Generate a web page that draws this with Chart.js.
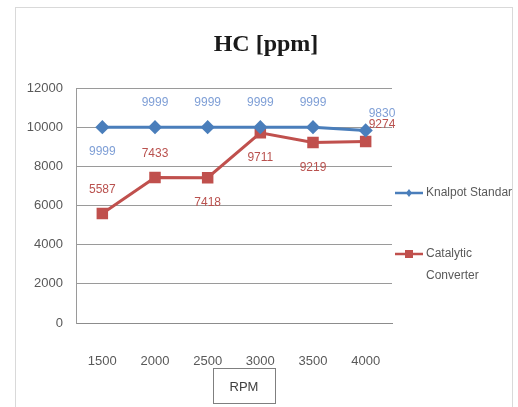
<!DOCTYPE html>
<html><head><meta charset="utf-8">
<script src="https://cdn.jsdelivr.net/npm/chart.js@4"></script>
<style>html,body{margin:0;padding:0;background:#fff}</style></head>
<body><canvas id="c" width="518" height="407"></canvas>
<script>
const chartTitle = 'HC [ppm]';
const xTitle = 'RPM';
const rpm = ['1500','2000','2500','3000','3500','4000'];
const knalpotStandar = [9999, 9999, 9999, 9999, 9999, 9830];
const catalyticConverter = [5587, 7433, 7418, 9711, 9219, 9274];
const knalpotLabelSide = ['below','above','above','above','above','right'];
const catalyticLabelSide = ['above','above','below','below','below','right'];
const seriesNames = ['Knalpot Standar', 'Catalytic Converter'];

const BLUE = '#4a7ebb', RED = '#c0504d';

const decor = {
  id: 'decor',
  beforeDraw(chart) {
    const ctx = chart.ctx;
    ctx.save();
    ctx.fillStyle = '#fff';
    ctx.fillRect(0, 0, chart.width, chart.height);
    ctx.strokeStyle = '#d9d9d9';
    ctx.lineWidth = 1;
    ctx.strokeRect(15.5, 7.5, 497, 405);
    // title
    ctx.fillStyle = '#1a1a1a';
    ctx.font = 'bold 24px "Liberation Serif", "Times New Roman", serif';
    ctx.textAlign = 'center';
    ctx.textBaseline = 'middle';
    ctx.fillText(chartTitle, 266, 45);
    ctx.restore();
  },
  afterDatasetsDraw(chart) {
    const ctx = chart.ctx;
    ctx.save();
    ctx.font = '12px "Liberation Sans", Arial, sans-serif';
    ctx.textAlign = 'center';
    ctx.textBaseline = 'middle';
    const specs = [
      {sides: knalpotLabelSide, color: '#7f9fd6'},
      {sides: catalyticLabelSide, color: '#b9514e'}
    ];
    chart.data.datasets.forEach((ds, di) => {
      const meta = chart.getDatasetMeta(di);
      ctx.fillStyle = specs[di].color;
      meta.data.forEach((pt, i) => {
        const side = specs[di].sides[i];
        let x = pt.x, y = pt.y;
        ctx.textAlign = 'center';
        if (side === 'above') y -= 24;
        else if (side === 'below') y += 25;
        else { ctx.textAlign = 'left'; x += 3; y -= 17; }
        ctx.fillText(String(ds.data[i]), x, y);
      });
    });
    // legend
    const lx0 = 395, lx1 = 423, tx = 426;
    const rows = [193, 254];
    ctx.font = '12px "Liberation Sans", sans-serif';
    ctx.textAlign = 'left';
    chart.data.datasets.forEach((ds, di) => {
      const y = rows[di];
      ctx.strokeStyle = ds.borderColor;
      ctx.lineWidth = 2.5;
      ctx.beginPath(); ctx.moveTo(lx0, y); ctx.lineTo(lx1, y); ctx.stroke();
      ctx.fillStyle = ds.pointBackgroundColor;
      const mx = (lx0 + lx1) / 2;
      if (di === 0) {
        ctx.beginPath(); ctx.moveTo(mx, y - 4); ctx.lineTo(mx + 3, y); ctx.lineTo(mx, y + 4); ctx.lineTo(mx - 3, y); ctx.closePath(); ctx.fill();
      } else {
        ctx.fillRect(mx - 4, y - 4, 8, 8);
      }
      ctx.fillStyle = '#595959';
      const words = ds.label.split(' ');
      let lines = [], cur = '';
      words.forEach(w => {
        const t = cur ? cur + ' ' + w : w;
        if (ctx.measureText(t).width > 92 && cur) { lines.push(cur); cur = w; } else cur = t;
      });
      lines.push(cur);
      lines.forEach((l, k) => ctx.fillText(l, tx, y + k * 22));
    });
    // x title in box
    ctx.font = '13px "Liberation Sans", sans-serif';
    ctx.textAlign = 'center';
    ctx.fillStyle = '#404040';
    ctx.fillText(xTitle, 244, 387);
    ctx.strokeStyle = '#7f7f7f';
    ctx.lineWidth = 1;
    ctx.strokeRect(213.5, 368.5, 62, 35);
    ctx.restore();
  }
};

new Chart(document.getElementById('c'), {
  type: 'line',
  data: {
    labels: rpm,
    datasets: [
      {label: seriesNames[0], data: knalpotStandar, borderColor: BLUE, backgroundColor: BLUE,
       pointBackgroundColor: BLUE, pointBorderColor: BLUE, pointStyle: 'rectRot', pointRadius: 5,
       borderWidth: 3, tension: 0},
      {label: seriesNames[1], data: catalyticConverter, borderColor: RED, backgroundColor: RED,
       pointBackgroundColor: RED, pointBorderColor: RED, pointStyle: 'rect', pointRadius: 6,
       borderWidth: 3, tension: 0}
    ]
  },
  options: {
    responsive: false,
    animation: false,
    devicePixelRatio: 1,
    layout: {padding: {left: 15, right: 126, top: 88, bottom: 0}},
    plugins: {
      legend: {display: false},
      tooltip: {enabled: false},
      title: {display: false}
    },
    scales: {
      x: {
        offset: true,
        grid: {display: false},
        border: {display: true, color: '#8c8c8c'},
        ticks: {color: '#595959', font: {family: '"Liberation Sans", sans-serif', size: 13}, padding: 23, maxRotation: 0},
        afterFit(s) { s.height = 84; }
      },
      y: {
        min: 0, max: 12000,
        ticks: {stepSize: 2000, color: '#595959', font: {family: '"Liberation Sans", sans-serif', size: 13}, padding: 13,
          callback: v => String(v)},
        grid: {color: '#9a9a9a', drawTicks: false},
        border: {display: true, color: '#9a9a9a'},
        afterFit(s) { s.width = 61; }
      }
    }
  },
  plugins: [decor]
});
</script>
</body></html>
